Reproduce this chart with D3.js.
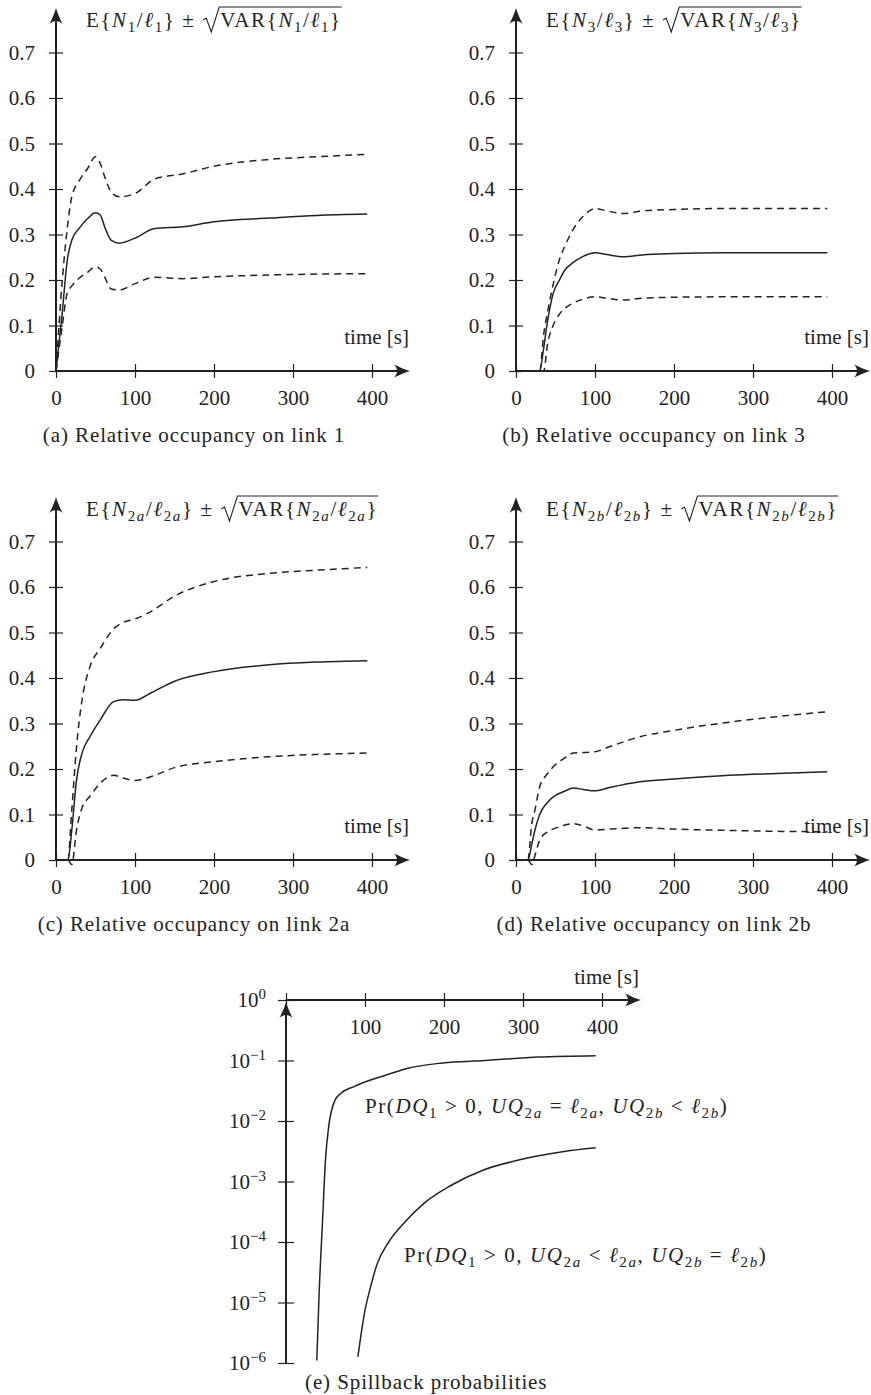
<!DOCTYPE html>
<html>
<head>
<meta charset="utf-8">
<script src="https://cdn.jsdelivr.net/npm/d3@7"></script>
<style>
  body { margin: 0; background: #fff; }
  svg { display: block; }
  text { font-family: 'Liberation Serif', 'Times New Roman', serif; font-size: 21px; fill: #222; white-space: pre; }
  text.math { letter-spacing: 1.6px; }
  text.cap { letter-spacing: 0.9px; }
</style>
</head>
<body>
<script>
// ---- data ----
// (a) link 1
var tA    = [0, 8, 14, 20, 30, 40, 50, 56, 62, 70, 80, 100, 125, 160, 200, 270, 330, 394];
var meanA = [0, 0.13, 0.24, 0.288, 0.315, 0.335, 0.348, 0.343, 0.315, 0.287, 0.281, 0.292, 0.313, 0.317, 0.328, 0.336, 0.342, 0.345];
var upA   = [0, 0.2, 0.31, 0.383, 0.42, 0.445, 0.471, 0.456, 0.425, 0.393, 0.383, 0.39, 0.422, 0.433, 0.45, 0.465, 0.471, 0.476];
var loA   = [0, 0.1, 0.17, 0.187, 0.205, 0.217, 0.229, 0.224, 0.205, 0.18, 0.178, 0.192, 0.206, 0.203, 0.207, 0.211, 0.213, 0.214];
// (b) link 3
var tB    = [0, 30, 35, 40, 47, 55, 62, 72, 85, 100, 115, 136, 160, 200, 260, 330, 394];
var meanB = [0, 0, 0.05, 0.11, 0.17, 0.2, 0.222, 0.238, 0.252, 0.26, 0.256, 0.251, 0.255, 0.258, 0.26, 0.26, 0.26];
var upB   = [0, 0, 0.08, 0.13, 0.19, 0.245, 0.275, 0.31, 0.34, 0.357, 0.352, 0.346, 0.352, 0.355, 0.357, 0.357, 0.357];
var loB   = [0, 0, 0, 0.06, 0.1, 0.125, 0.138, 0.149, 0.158, 0.163, 0.16, 0.156, 0.16, 0.162, 0.163, 0.163, 0.163];
// (c) link 2a
var tC    = [0, 15, 20, 26, 33, 43, 56, 73, 85, 100, 120, 150, 200, 270, 330, 394];
var meanC = [0, 0, 0.066, 0.176, 0.235, 0.271, 0.308, 0.348, 0.352, 0.351, 0.367, 0.393, 0.414, 0.429, 0.435, 0.438];
var upC   = [0, 0, 0.11, 0.249, 0.352, 0.425, 0.465, 0.508, 0.522, 0.53, 0.546, 0.58, 0.612, 0.63, 0.637, 0.643];
var loC   = [0, 0, -0.01, 0.066, 0.115, 0.14, 0.169, 0.186, 0.18, 0.175, 0.183, 0.203, 0.216, 0.227, 0.232, 0.235];
// (d) link 2b
var tD    = [0, 15, 20, 24, 30, 40, 50, 60, 73, 85, 100, 120, 157, 200, 270, 330, 394];
var meanD = [0, 0, 0.035, 0.066, 0.1, 0.127, 0.142, 0.15, 0.158, 0.155, 0.152, 0.16, 0.172, 0.178, 0.186, 0.19, 0.194];
var upD   = [0, 0, 0.08, 0.11, 0.161, 0.19, 0.21, 0.222, 0.235, 0.236, 0.238, 0.25, 0.271, 0.285, 0.303, 0.315, 0.326];
var loD   = [0, 0, -0.01, 0.01, 0.044, 0.062, 0.07, 0.076, 0.08, 0.075, 0.066, 0.068, 0.071, 0.068, 0.065, 0.063, 0.062];
// (e) spillback probabilities
var prT1 = [39, 42, 46, 50, 54, 62, 70, 86, 108, 126, 153, 198, 252, 320, 392];
var prV1 = [1.1e-6, 1.5e-5, 1.9e-4, 2.3e-3, 8e-3, 0.022, 0.029, 0.037, 0.048, 0.057, 0.074, 0.091, 0.10, 0.114, 0.12];
var prT2 = [91, 100, 106, 115, 130, 150, 175, 208, 250, 300, 350, 392];
var prV2 = [1.26e-6, 7.5e-6, 1.6e-5, 4.2e-5, 1e-4, 2.1e-4, 4.4e-4, 8.5e-4, 1.55e-3, 2.35e-3, 3.1e-3, 3.6e-3];

var xTicks = [0, 100, 200, 300, 400];
var yTicks = [0, 0.1, 0.2, 0.3, 0.4, 0.5, 0.6, 0.7];
var logTicks = [1, 1e-1, 1e-2, 1e-3, 1e-4, 1e-5, 1e-6];
var logExp = ["0", "\u22121", "\u22122", "\u22123", "\u22124", "\u22125", "\u22126"];

var INK = "#222";
var svg = d3.select("body").append("svg").attr("width", 871).attr("height", 1395);

function arrowHead(x, y, angle) {
  svg.append("path")
    .attr("d", "M0,0 C-5,-1.5 -11,-4 -16,-6.5 C-12,-2.5 -12,2.5 -16,6.5 C-11,4 -5,1.5 0,0 Z")
    .attr("fill", INK)
    .attr("transform", "translate(" + x + "," + y + ") rotate(" + angle + ")");
}

// text with italic letters and subscripts
function mathText(g, x, y, segs) {
  var t = g.append("text").attr("class", "math").attr("x", x).attr("y", y);
  var shift = 0;
  function span(txt, italic, sub) {
    var target = sub ? 5 : 0;
    var s = t.append("tspan").text(txt).attr("dy", target - shift);
    if (italic) s.attr("font-style", "italic");
    if (sub) s.attr("font-size", 15);
    shift = target;
  }
  segs.forEach(function(s) {
    if (s.sub) {
      s.sub.split("").forEach(function(ch) { span(ch, /[a-z]/.test(ch), true); });
    } else {
      span(s.t, s.i, false);
    }
  });
  return t;
}

function ratio(sub) {
  return [{t: "N", i: 1}, {sub: sub}, {t: "/"}, {t: "\u2113", i: 1}, {sub: sub}];
}

function title(x, y, sub) {
  var g = svg.append("g");
  var a = mathText(g, x, y, [{t: "E{"}].concat(ratio(sub), [{t: "} \u00b1 "}]));
  var rx = x + a.node().getComputedTextLength() + 1;
  var b = mathText(g, rx + 17, y, [{t: "VAR{"}].concat(ratio(sub), [{t: "}"}]));
  var end = rx + 17 + b.node().getComputedTextLength();
  g.append("path")
    .attr("d", "M" + rx + "," + (y - 7) + " L" + (rx + 3) + "," + (y - 9) + " L" + (rx + 8) + "," + (y + 5) +
      " L" + (rx + 16) + "," + (y - 20) + " L" + end + "," + (y - 20))
    .attr("fill", "none").attr("stroke", INK).attr("stroke-width", 1.1);
}

function styleAxis(g) {
  g.select(".domain").remove();
  g.attr("font-family", null).attr("font-size", null).attr("color", INK);
  g.selectAll(".tick line").attr("stroke-width", 1.2);
}

function panel(ox, oy, t, mean, up, lo, sub, caption) {
  var x = d3.scaleLinear().domain([0, 400]).range([ox, ox + 316]);
  var y = d3.scaleLinear().domain([0, 0.7]).range([oy, oy - 318.5]);

  var gx = svg.append("g").attr("transform", "translate(0," + oy + ")")
    .call(d3.axisBottom(x).tickValues(xTicks).tickSize(7).tickPadding(12));
  styleAxis(gx);
  gx.selectAll(".tick line").attr("y1", -7);

  var gy = svg.append("g").attr("transform", "translate(" + ox + ",0)")
    .call(d3.axisLeft(y).tickValues(yTicks).tickSize(7).tickPadding(14).tickFormat(function(d) { return d === 0 ? "0" : d3.format(".1f")(d); }));
  styleAxis(gy);
  gy.selectAll(".tick line").attr("x1", 7);

  // axis lines with arrows
  svg.append("line").attr("x1", ox).attr("x2", ox + 350).attr("y1", oy).attr("y2", oy)
    .attr("stroke", INK).attr("stroke-width", 2);
  arrowHead(ox + 354, oy, 0);
  svg.append("line").attr("x1", ox).attr("x2", ox).attr("y1", oy).attr("y2", oy - 359)
    .attr("stroke", INK).attr("stroke-width", 2);
  arrowHead(ox, oy - 363, -90);

  var line = d3.line().x(function(d) { return x(d[0]); }).y(function(d) { return y(d[1]); })
    .curve(d3.curveMonotoneX);
  [[mean, null], [up, "7,5"], [lo, "7,5"]].forEach(function(s) {
    svg.append("path").datum(d3.zip(t, s[0])).attr("d", line)
      .attr("fill", "none").attr("stroke", INK).attr("stroke-width", 1.5)
      .attr("stroke-dasharray", s[1]);
  });

  svg.append("text").attr("x", ox + 353).attr("y", oy - 27).attr("text-anchor", "end").text("time [s]");
  title(ox + 30, oy - 344, sub);
  svg.append("text").attr("class", "cap").attr("x", ox + 138).attr("y", oy + 71).attr("text-anchor", "middle").text(caption);
}

panel(56, 371, tA, meanA, upA, loA, "1", "(a) Relative occupancy on link 1");
panel(516, 371, tB, meanB, upB, loB, "3", "(b) Relative occupancy on link 3");
panel(56, 860, tC, meanC, upC, loC, "2a", "(c) Relative occupancy on link 2a");
panel(516, 860, tD, meanD, upD, loD, "2b", "(d) Relative occupancy on link 2b");

// ---- (e) log panel ----
(function() {
  var ox = 286, oy = 1000;
  var x = d3.scaleLinear().domain([0, 400]).range([ox, ox + 316]);
  var y = d3.scaleLog().domain([1e-6, 1]).range([1363, oy]);

  var gx = svg.append("g").attr("transform", "translate(0," + oy + ")")
    .call(d3.axisBottom(x).tickValues(xTicks).tickSize(7).tickPadding(12).tickFormat(function(d) { return d ? d : ""; }));
  styleAxis(gx);
  gx.selectAll(".tick line").attr("y1", -7);

  var gy = svg.append("g").attr("transform", "translate(" + ox + ",0)")
    .call(d3.axisLeft(y).tickValues(logTicks).tickSize(8).tickPadding(12).tickFormat(function() { return ""; }));
  styleAxis(gy);
  gy.selectAll(".tick line").attr("x1", 8);
  gy.selectAll(".tick text").each(function(d, i) {
    var t = d3.select(this);
    t.append("tspan").text("10");
    t.append("tspan").text(logExp[i]).attr("font-size", 15).attr("dy", -8);
  });

  svg.append("line").attr("x1", ox).attr("x2", ox + 351).attr("y1", oy).attr("y2", oy)
    .attr("stroke", INK).attr("stroke-width", 2);
  arrowHead(ox + 355, oy, 0);
  svg.append("line").attr("x1", ox).attr("x2", ox).attr("y1", 1363).attr("y2", oy + 6)
    .attr("stroke", INK).attr("stroke-width", 2);
  arrowHead(ox, oy + 2, -90);

  var line = d3.line().x(function(d) { return x(d[0]); }).y(function(d) { return y(d[1]); })
    .curve(d3.curveMonotoneX);
  [[prT1, prV1], [prT2, prV2]].forEach(function(s) {
    svg.append("path").datum(d3.zip(s[0], s[1])).attr("d", line)
      .attr("fill", "none").attr("stroke", INK).attr("stroke-width", 1.5);
  });

  svg.append("text").attr("x", ox + 353).attr("y", 984).attr("text-anchor", "end").text("time [s]");

  var g = svg.append("g");
  mathText(g, 365, 1113, [{t: "Pr("}, {t: "DQ", i: 1}, {sub: "1"}, {t: " > 0, "}, {t: "UQ", i: 1}, {sub: "2a"},
    {t: " = "}, {t: "\u2113", i: 1}, {sub: "2a"}, {t: ", "}, {t: "UQ", i: 1}, {sub: "2b"}, {t: " < "},
    {t: "\u2113", i: 1}, {sub: "2b"}, {t: ")"}]);
  mathText(g, 404, 1262, [{t: "Pr("}, {t: "DQ", i: 1}, {sub: "1"}, {t: " > 0, "}, {t: "UQ", i: 1}, {sub: "2a"},
    {t: " < "}, {t: "\u2113", i: 1}, {sub: "2a"}, {t: ", "}, {t: "UQ", i: 1}, {sub: "2b"}, {t: " = "},
    {t: "\u2113", i: 1}, {sub: "2b"}, {t: ")"}]);

  svg.append("text").attr("class", "cap").attr("x", 305).attr("y", 1389).text("(e) Spillback probabilities");
})();
</script>
</body>
</html>
